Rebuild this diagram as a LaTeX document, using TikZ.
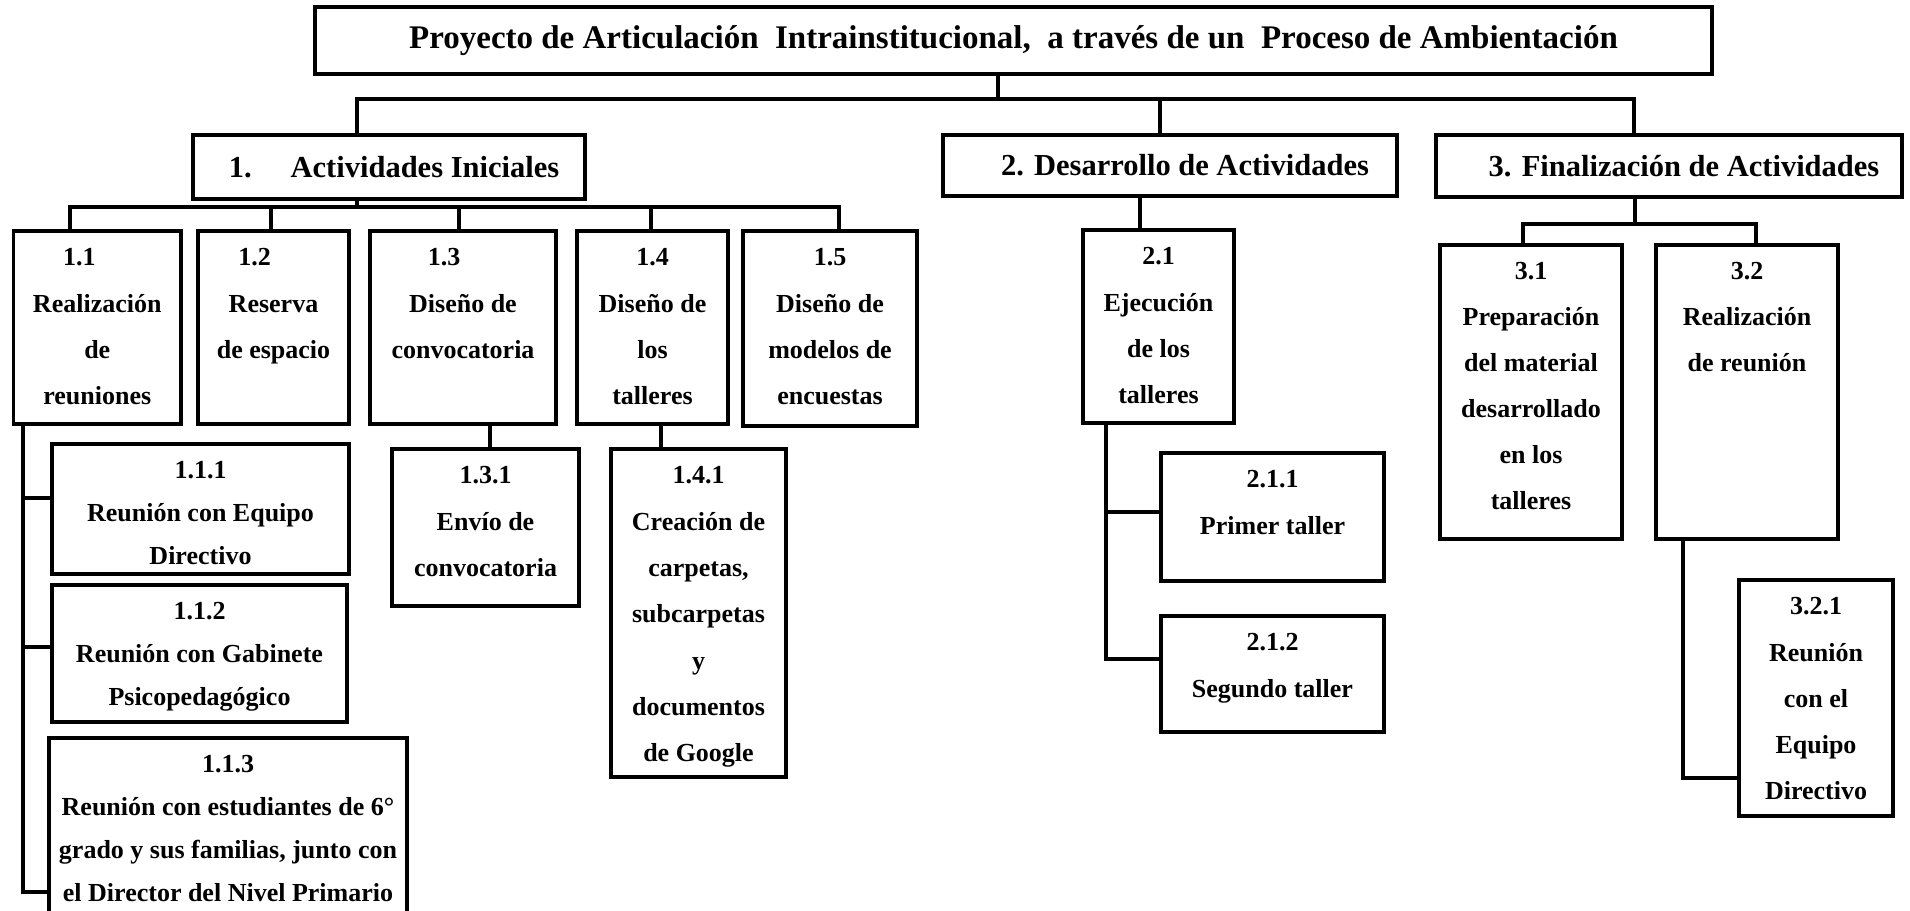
\documentclass[tikz,border=0pt]{standalone}
\usepackage{fontspec}
\setmainfont{Liberation Serif}
\newcommand\bx[7]{%
  \node[box, minimum width=#4-#2, minimum height=#5-#3, anchor=north west] (#1) at (#2,#3) {};
  \node[txt, font=\bfseries\fontsize{26}{#6}\selectfont, anchor=north] (#1t) at ([yshift=-4.6pt]#1.north) {\rule{0pt}{30pt}#7};}
\begin{document}
\begin{tikzpicture}[x=1pt,y=-1pt,
  box/.style={draw, line width=3.2pt, inner sep=0pt, outer sep=0pt, rectangle},
  hd/.style={box, font=\bfseries\fontsize{30.5}{36}\selectfont},
  txt/.style={inner sep=0pt, align=center},
  conn/.style={line width=3.2pt}]
\fill[white] (0,0) rectangle (1910,910);
\useasboundingbox (0,0) rectangle (1910,910);

% title and level 1
\node[box, font=\bfseries\fontsize{33}{38}\selectfont, minimum width=1397, minimum height=67, anchor=north west] (top) at (315,7)
  {Proyecto de Articulación\ \ Intrainstitucional,\ \ a través de un\ \ Proceso de Ambientación};
\node[hd, minimum width=392, minimum height=64, anchor=north west] (n1) at (193,135) {\hspace*{10pt}1.\hspace*{39pt}Actividades Iniciales};
\node[hd, minimum width=454, minimum height=61, anchor=north west] (n2) at (943,135) {\hspace*{30pt}2. Desarrollo de Actividades};
\node[hd, minimum width=466, minimum height=62, anchor=north west] (n3) at (1436,135) {\hspace*{30pt}3. Finalización de Actividades};

% level 2 and 3 boxes
\bx{n11}{13.5}{231}{181}{424}{46.3}{\hspace*{-36pt}1.1\\Realización\\de\\reuniones}
\bx{n12}{198}{231}{349}{424}{46.3}{\hspace*{-38pt}1.2\\Reserva\\de espacio}
\bx{n13}{370}{231}{556}{424}{46.3}{\hspace*{-38pt}1.3\\Diseño de\\convocatoria}
\bx{n14}{577}{231}{728}{424}{46.3}{1.4\\Diseño de\\los\\talleres}
\bx{n15}{743}{231}{917}{426}{46.3}{1.5\\Diseño de\\modelos de\\encuestas}
\bx{n111}{52}{444}{349}{574}{43}{1.1.1\\Reunión con Equipo\\Directivo}
\bx{n112}{52}{585}{347}{722}{43}{1.1.2\\Reunión con Gabinete\\Psicopedagógico}
\bx{n113}{49}{738}{407}{1046}{43}{1.1.3\\Reunión con estudiantes de 6°\\grado y sus familias, junto con\\el Director del Nivel Primario}
\bx{n131}{392}{449}{579}{606}{46.3}{1.3.1\\Envío de\\convocatoria}
\bx{n141}{611}{449}{786}{777}{46.3}{1.4.1\\Creación de\\carpetas,\\subcarpetas\\y\\documentos\\de Google}
\bx{n21}{1083}{230}{1234}{423}{46.3}{2.1\\Ejecución\\de los\\talleres}
\bx{n211}{1161}{453}{1384}{581}{47}{2.1.1\\Primer taller}
\bx{n212}{1161}{616}{1384}{732}{47}{2.1.2\\Segundo taller}
\bx{n31}{1440}{245}{1622}{539}{46}{3.1\\Preparación\\del material\\desarrollado\\en los\\talleres}
\bx{n32}{1656}{245}{1838}{539}{46}{3.2\\Realización\\de reunión}
\bx{n321}{1739}{580}{1893}{816}{46.2}{3.2.1\\Reunión\\con el\\Equipo\\Directivo}

% connector points
\coordinate (b0) at (998,99);
\coordinate (c1) at (357,99);
\coordinate (c2) at (1160,99);
\coordinate (c3) at (1634,99);
\coordinate (d0) at (357,207);
\coordinate (d1) at (70,207);
\coordinate (d2) at (271,207);
\coordinate (d3) at (459,207);
\coordinate (d4) at (651,207);
\coordinate (d5) at (839,207);
\coordinate (e1) at (23,498);
\coordinate (e2) at (23,647);
\coordinate (e3) at (23,892);
\coordinate (h1) at (490,0);
\coordinate (h2) at (661,0);
\coordinate (k0) at (1140,0);
\coordinate (m1) at (1106,512);
\coordinate (m2) at (1106,659);
\coordinate (p0) at (1635,224);
\coordinate (p1) at (1523,224);
\coordinate (p2) at (1756,224);
\coordinate (q1) at (1683,778);

% connectors
\draw[conn] (top.south -| b0) -- (b0);
\draw[conn] (c1 |- n1.north) -- (c1) -- (c3) -- (c3 |- n3.north);
\draw[conn] (c2) -- (c2 |- n2.north);
\draw[conn] (n1.south -| d0) -- (d0);
\draw[conn] (d1 |- n11.north) -- (d1) -- (d5) -- (d5 |- n15.north);
\draw[conn] (d2) -- (d2 |- n12.north);
\draw[conn] (d3) -- (d3 |- n13.north);
\draw[conn] (d4) -- (d4 |- n14.north);
\draw[conn] (n11.south -| e3) -- (e3) -- (e3 -| n113.west);
\draw[conn] (e1) -- (e1 -| n111.west);
\draw[conn] (e2) -- (e2 -| n112.west);
\draw[conn] (n13.south -| h1) -- (n131.north -| h1);
\draw[conn] (n14.south -| h2) -- (n141.north -| h2);
\draw[conn] (n2.south -| k0) -- (n21.north -| k0);
\draw[conn] (n21.south -| m2) -- (m2) -- (m2 -| n212.west);
\draw[conn] (m1) -- (m1 -| n211.west);
\draw[conn] (n3.south -| p0) -- (p0);
\draw[conn] (p1 |- n31.north) -- (p1) -- (p2) -- (p2 |- n32.north);
\draw[conn] (n32.south -| q1) -- (q1) -- (q1 -| n321.west);
\end{tikzpicture}
\end{document}
